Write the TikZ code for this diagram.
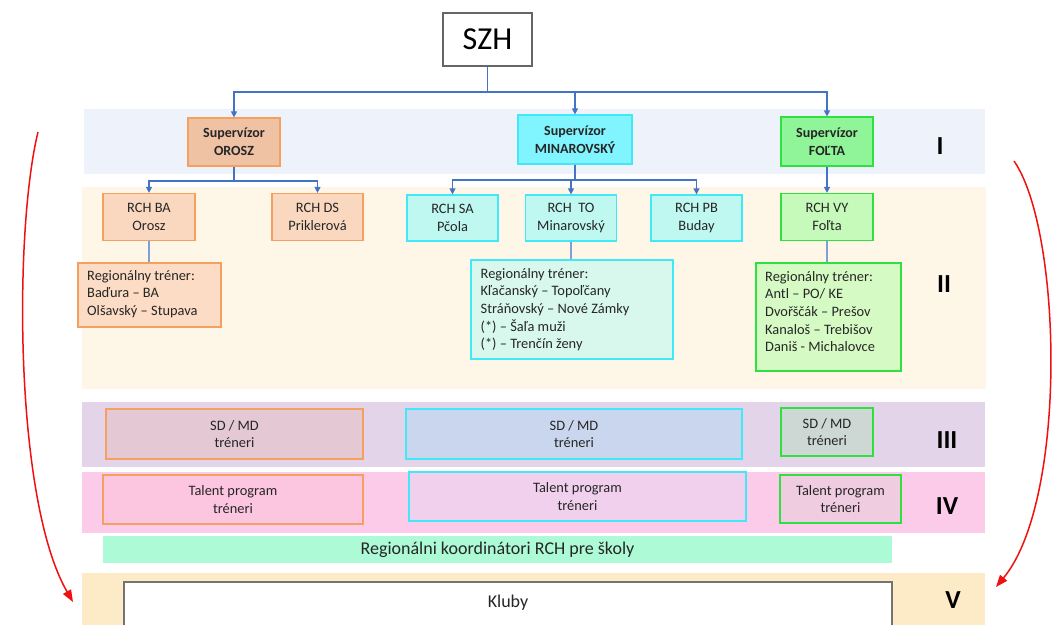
\documentclass[tikz,border=0pt]{standalone}
\usepackage{fontspec}
\setmainfont{Carlito}
\usetikzlibrary{arrows.meta}
\definecolor{txt}{HTML}{262626}
\definecolor{bandI}{HTML}{EEF2FA}
\definecolor{bandII}{HTML}{FEF7E8}
\definecolor{bandIII}{HTML}{E3D4EA}
\definecolor{bandIV}{HTML}{FCCBEA}
\definecolor{bandV}{HTML}{FDEBC8}
\definecolor{greenbar}{HTML}{ADFAD6}
\definecolor{orB}{HTML}{F4A060}
\definecolor{cyB}{HTML}{40E8F8}
\definecolor{grB}{HTML}{30E040}
\definecolor{supO}{HTML}{F0C2A4}
\definecolor{supM}{HTML}{80F4FF}
\definecolor{supF}{HTML}{90F598}
\definecolor{rchO}{HTML}{FAD8C0}
\definecolor{rchM}{HTML}{BFF8F0}
\definecolor{rchF}{HTML}{C6FABA}
\definecolor{regO}{HTML}{FCDCC4}
\definecolor{regM}{HTML}{D8F8EE}
\definecolor{regF}{HTML}{D6FAC4}
\definecolor{sdO}{HTML}{E4C8D4}
\definecolor{sdM}{HTML}{CAD6EE}
\definecolor{sdF}{HTML}{CDD8D4}
\definecolor{tpO}{HTML}{FCC6E0}
\definecolor{tpM}{HTML}{F0D0EC}
\definecolor{tpF}{HTML}{F0CCE0}
\definecolor{conn}{HTML}{4472C4}
\definecolor{connl}{HTML}{7F9FD6}
\definecolor{redarr}{HTML}{F01010}
\begin{document}
\begin{tikzpicture}[x=1pt,y=-1pt,
  box/.style={draw, line width=1.2pt, align=center, inner sep=0pt, text=txt,
    font=\fontsize{14.4}{17.6}\selectfont},
  supbox/.style={box, font=\bfseries\fontsize{14}{18}\selectfont},
  band/.style={draw=none, inner sep=0pt},
  rtext/.style={align=left, inner sep=0pt, anchor=north west, text=txt,
    font=\fontsize{14.4}{17.6}\selectfont},
  lvl/.style={font=\bfseries\fontsize{26}{30}\selectfont, text=black, inner sep=0pt},
  arr/.style={draw=conn, line width=1.2pt, -{Triangle[length=6pt,width=6pt]}},
  lnk/.style={draw=connl, line width=1.2pt},
  redc/.style={draw=redarr, line width=1.5pt, -{Triangle[length=12pt,width=9pt]}}
]
\useasboundingbox (0,0) rectangle (1057,624);
\clip (0,0) rectangle (1057,624);
\fill[white] (0,0) rectangle (1057,624);

% bands
\node[band, fill=bandI, minimum width=901, minimum height=65] (bI) at (534.5,141.5) {};
\node[band, fill=bandII, minimum width=904, minimum height=202] (bII) at (533.5,288) {};
\node[band, fill=bandIII, minimum width=903, minimum height=65] (bIII) at (533.5,434.5) {};
\node[band, fill=bandIV, minimum width=903, minimum height=61] (bIV) at (533.5,502.5) {};
\node[band, fill=bandV, minimum width=903, minimum height=60] (bV) at (533.5,603) {};

% top
\node[box, draw=black!60, fill=white, line width=1.2pt, minimum width=89, minimum height=53,
  font=\fontsize{32}{36}\selectfont, text=black] (szh) at (487.5,39.5) {SZH};

% supervisors
\node[supbox, draw=orB, fill=supO, minimum width=92, minimum height=48] (so) at (234,142) {Supervízor\\OROSZ};
\node[supbox, draw=cyB, fill=supM, minimum width=114, minimum height=49] (sm) at (575,139.5) {Supervízor\\MINAROVSKÝ};
\node[supbox, draw=grB, fill=supF, minimum width=92, minimum height=49] (sf) at (827,141.5) {Supervízor\\FOĽTA};

\coordinate (busI) at (487,92);
\draw[arr] (szh.south) -- (szh.south |- busI) -| (so.north);
\draw[arr] (szh.south) -- (szh.south |- busI) -| (sm.north);
\draw[arr] (szh.south) -- (szh.south |- busI) -| (sf.north);

% RCH
\node[box, draw=orB, fill=rchO, minimum width=92, minimum height=47] (ba) at (149,217) {RCH BA\\Orosz};
\node[box, draw=orB, fill=rchO, minimum width=91, minimum height=47] (ds) at (317.5,217) {RCH DS\\Priklerová};
\node[box, draw=cyB, fill=rchM, minimum width=91, minimum height=46] (sa) at (452.5,218) {RCH SA\\Pčola};
\node[box, draw=cyB, fill=rchM, minimum width=91, minimum height=46] (to) at (571,218) {RCH\ \ TO\\Minarovský};
\node[box, draw=cyB, fill=rchM, minimum width=91, minimum height=46] (pb) at (696.5,218) {RCH PB\\Buday};
\node[box, draw=grB, fill=rchF, minimum width=92, minimum height=47] (vy) at (827,217) {RCH VY\\Foľta};

\coordinate (busO) at (234,181);
\coordinate (busM) at (575,180);
\draw[arr] (so.south) -- (so.south |- busO) -| (ba.north);
\draw[arr] (so.south) -- (so.south |- busO) -| (ds.north);
\draw[arr] (sm.south) -- (sm.south |- busM) -| (sa.north);
\draw[arr] (sm.south) -- (sm.south |- busM) -| (to.north);
\draw[arr] (sm.south) -- (sm.south |- busM) -| (pb.north);
\draw[arr] (sf.south) -- (vy.north);

% regional trainers
\node[box, draw=orB, fill=regO, minimum width=143, minimum height=64] (rba) at (149.5,295) {};
\node[box, draw=cyB, fill=regM, minimum width=202, minimum height=99] (rto) at (572,309.5) {};
\node[box, draw=grB, fill=regF, minimum width=145, minimum height=108] (rvy) at (828.5,317) {};
\draw[lnk] (ba.south) -- (rba.north -| ba.south);
\draw[lnk] (to.south) -- (rto.north -| to.south);
\draw[lnk] (vy.south) -- (rvy.north -| vy.south);
\node[rtext] (tba) at (87,270) {Regionálny tréner:\\Baďura – BA\\Olšavský – Stupava};
\node[rtext] (tto) at (480.5,268) {Regionálny tréner:\\Kľačanský – Topoľčany\\Stráňovský – Nové Zámky\\(*) – Šaľa muži\\(*) – Trenčín ženy};
\node[rtext] (tvy) at (765,271) {Regionálny tréner:\\Antl – PO/ KE\\Dvořščák – Prešov\\Kanaloš – Trebišov\\Daniš - Michalovce};

% III
\node[box, draw=orB, fill=sdO, minimum width=257, minimum height=50] (sdo) at (234.5,434) {SD / MD\\tréneri};
\node[box, draw=cyB, fill=sdM, minimum width=336, minimum height=50] (sdm) at (574,434) {SD / MD\\tréneri};
\node[box, draw=grB, fill=sdF, minimum width=92, minimum height=48] (sdf) at (827,432) {SD / MD\\tréneri};

% IV
\node[box, draw=orB, fill=tpO, minimum width=260, minimum height=49] (tpo) at (233,499.5) {Talent program\\tréneri};
\node[box, draw=cyB, fill=tpM, minimum width=337, minimum height=49] (tpm) at (577.5,496.5) {Talent program\\tréneri};
\node[box, draw=grB, fill=tpF, minimum width=121, minimum height=48] (tpf) at (840.5,499) {Talent program\\tréneri};

% green bar
\node[band, fill=greenbar, minimum width=789, minimum height=27, text=txt,
  font=\fontsize{18}{20}\selectfont] (rk) at (497.5,549.5) {Regionálni koordinátori RCH pre školy};

% Kluby
\node[box, draw=black!55, fill=white, line width=1.5pt, minimum width=768, minimum height=70,
  font=\fontsize{18}{20}\selectfont, anchor=north] (kl) at (508,581) {};
\node[text=txt, font=\fontsize{18}{20}\selectfont, inner sep=0pt] (klt) at (508,603) {Kluby};

% level labels
\node[lvl] (lI) at (940,146) {I};
\node[lvl] (lII) at (944,284) {II};
\node[lvl] (lIII) at (947,440) {III};
\node[lvl] (lIV) at (947,506) {IV};
\node[lvl] (lV) at (953,600) {V};

% red arrows
\coordinate (la) at (38,132);
\coordinate (lb) at (73,602);
\coordinate (ra) at (1014,161);
\coordinate (rb) at (996,587);
\draw[redc] (la) .. controls (14,230) and (14,500) .. (lb);
\draw[redc] (ra) .. controls (1062,230) and (1068,500) .. (rb);
\end{tikzpicture}
\end{document}
